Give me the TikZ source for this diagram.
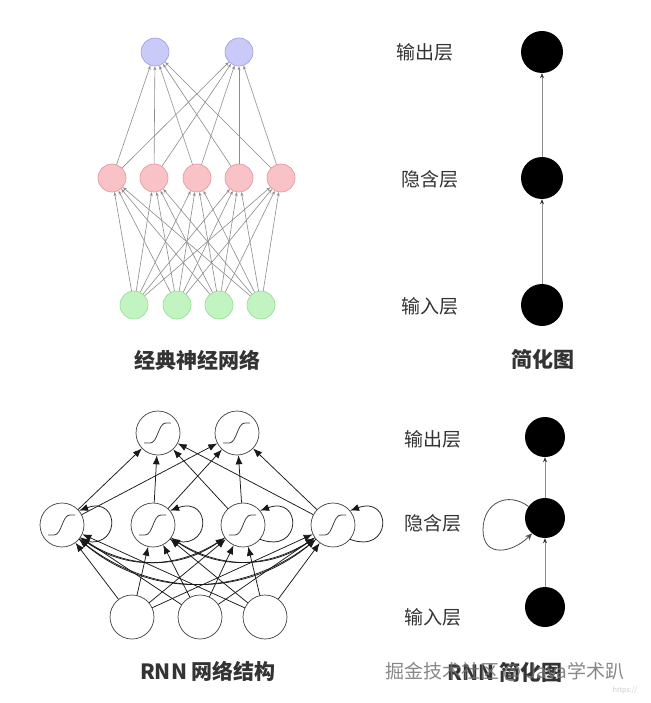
\documentclass[tikz,border=0pt]{standalone}
\usepackage{fontspec}
\setmainfont{Noto Sans CJK SC}
\usetikzlibrary{arrows.meta,positioning}

\definecolor{outfill}{HTML}{CACAF8}
\definecolor{outline}{HTML}{9C9CE2}
\definecolor{hidfill}{HTML}{F9C2C6}
\definecolor{hidline}{HTML}{E2939B}
\definecolor{infill}{HTML}{C2F4C2}
\definecolor{inline}{HTML}{94DA94}
\definecolor{txtgray}{HTML}{333333}

\begin{document}
\begin{tikzpicture}[x=1pt,y=-1pt,
  neuron/.style={circle,minimum size=28pt,inner sep=0pt,line width=0.6pt},
  blackdot/.style={circle,fill=black,minimum size=42pt,inner sep=0pt},
  cell/.style={circle,draw=black!75,line width=0.7pt,minimum size=44pt,inner sep=0pt},
  sigm/.style={cell,fill=white,path picture={\draw[line width=0.8pt,shift={(path picture bounding box.center)}]
    (-14pt,-10pt) -- (-8pt,-10pt) .. controls (0pt,-10pt) and (0pt,10pt) .. (8pt,10pt) -- (13pt,10pt);}},
  fcedge/.style={draw=black!45,line width=0.6pt,-{Stealth[length=4pt,width=3pt]}},
  simpedge/.style={draw=black!45,line width=0.6pt,-{Stealth[length=5pt,width=4pt,black!80]}},
  rnnedge/.style={draw=black!90,line width=0.75pt,-{Latex[length=9pt,width=7pt]}},
  lbl/.style={font=\fontsize{19}{19}\selectfont,text=txtgray},
  captxt/.style={font=\fontsize{21}{21}\selectfont\bfseries,text=txtgray}]
\useasboundingbox[fill=white] (0,0) rectangle (650,703);

% classic network
\node[neuron,draw=outline,fill=outfill] (o1) at (155,52) {};
\node[neuron,draw=outline,fill=outfill] (o2) at (239,52) {};
\foreach \i/\x in {1/112,2/154,3/197,4/239,5/281}
  \node[neuron,draw=hidline,fill=hidfill] (h\i) at (\x,178) {};
\foreach \i/\x in {1/134,2/177,3/219,4/261}
  \node[neuron,draw=inline,fill=infill] (x\i) at (\x,305) {};
\foreach \a in {1,...,4}
  \foreach \b in {1,...,5}
    \draw[fcedge] (x\a) -- (h\b);
\foreach \a in {1,...,5}
  \foreach \b in {1,2}
    \draw[fcedge] (h\a) -- (o\b);
\node[captxt] (capA) at (197,360) {经典神经网络};

% simplified graph
\node[blackdot] (so) at (542,52) {};
\node[blackdot] (sh) at (542,178) {};
\node[blackdot] (si) at (542,305) {};
\node[lbl] at (425,52) {输出层};
\node[lbl] at (430,179) {隐含层};
\node[lbl] at (430,306) {输入层};
\draw[simpedge] (si) -- (sh);
\draw[simpedge] (sh) -- (so);
\node[captxt] (capB) at (543,359) {简化图};

% RNN structure
\node[sigm] (y1) at (158,433) {};
\node[sigm] (y2) at (237,433) {};
\foreach \i/\x in {1/62,2/153,3/243,4/333}
  \node[sigm] (m\i) at (\x,525) {};
\foreach \i/\x in {1/132,2/200,3/265}
  \node[cell] (b\i) at (\x,617) {};
\foreach \a in {1,...,4}
  \foreach \b in {1,2}
    \draw[rnnedge] (m\a) -- (y\b);
\foreach \a in {1,...,3}
  \foreach \b in {1,...,4}
    \draw[rnnedge] (b\a) -- (m\b);
% recurrent links between hidden cells
\draw[rnnedge] (m1) to[out=-40,in=-140] (m4);
\draw[rnnedge] (m4) to[out=-140,in=-40] (m1);
\draw[rnnedge] (m1) to[out=-35,in=-145] (m3);
\draw[rnnedge] (m3) to[out=-145,in=-35] (m1);
\draw[rnnedge] (m2) to[out=-35,in=-145] (m4);
\draw[rnnedge] (m4) to[out=-145,in=-35] (m2);
\foreach \i in {1,...,4}
  \draw[rnnedge] (m\i.-40) to[out=-20,in=20,looseness=4] (m\i.40);
\node[captxt] (capC) at (208,671) {RNN 网络结构};

% RNN simplified
\node[blackdot,minimum size=40pt] (ro) at (545,437) {};
\node[blackdot,minimum size=40pt] (rh) at (545,518) {};
\node[blackdot,minimum size=40pt] (ri) at (545,607) {};
\coordinate (loopl) at (483,530);
\node[lbl] at (433,439) {输出层};
\node[lbl] at (433,523) {隐含层};
\node[lbl] at (433,617) {输入层};
\draw[simpedge] (ri) -- (rh);
\draw[simpedge] (rh) -- (ro);
\draw[draw=black!70,line width=0.8pt,-{Stealth[length=7pt,width=6pt]}]
  (rh.145) .. controls +(-20,-15) and +(0,-28) .. (loopl)
  .. controls +(0,28) and +(-20,20) .. (rh.230);
\node[captxt] (capD) at (505,672) {RNN 简化图};
\node[font=\fontsize{19}{19}\selectfont,text=black!55,opacity=0.85] at (505,672) {掘金技术社区 @ Java学术趴};
\node[font=\fontsize{7}{7}\selectfont,text=black!20] at (625,691) {https://};
\end{tikzpicture}
\end{document}
